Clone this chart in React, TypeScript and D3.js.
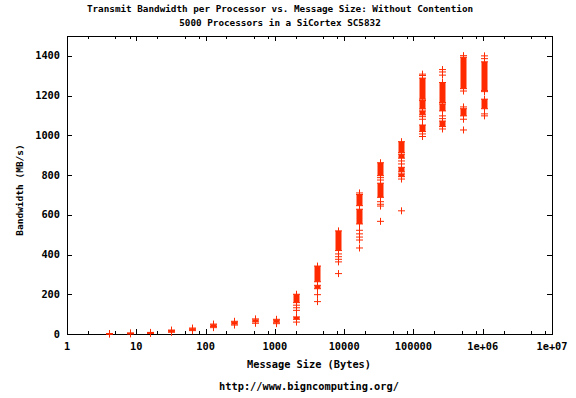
import { useRef, useEffect } from "react";
import * as d3 from "d3";

// message sizes (bytes), one column of measurements each
const sizes = [
  4, 8, 16, 32, 64, 128, 256, 512, 1024, 2048, 4096, 8192, 16384, 32768,
  65536, 131072, 262144, 524288, 1048576,
];

// dense runs of samples, [low, high] MB/s
const bands: number[][][] = [
  [[0.5, 2]],
  [[1, 4]],
  [[3, 7]],
  [[11, 17]],
  [[21, 26]],
  [[38, 46]],
  [[50, 60]],
  [[61, 71]],
  [[59, 70]],
  [[158, 200], [74, 86]],
  [[263, 342], [228, 245]],
  [[420, 519]],
  [[646, 702], [554, 628]],
  [[797, 862], [688, 759]],
  [[913, 968], [885, 905], [816, 839], [792, 806]],
  [[1182, 1288], [1133, 1175], [1103, 1123], [1019, 1052]],
  [[1165, 1266], [1123, 1158], [1044, 1072]],
  [[1235, 1393], [1098, 1134]],
  [[1225, 1370], [1134, 1182]],
];

// isolated samples, MB/s
const points: number[][] = [
  [1, 2],
  [2, 5],
  [4, 8],
  [9, 20],
  [17, 30],
  [32, 50],
  [45, 64],
  [54, 76],
  [52, 74],
  [145, 132, 119, 60],
  [198, 163],
  [403, 389, 376, 363, 304],
  [710, 522, 504, 488, 473, 433],
  [787, 775, 666, 653, 644, 567],
  [871, 856, 780, 620],
  [1308, 1301, 1094, 1081, 1007, 994],
  [1331, 1319, 1303, 1098, 1084, 1032],
  [1401, 1223, 1143, 1081, 1027],
  [1400, 1386, 1220, 1108, 1098],
];

const xTicks = [1, 10, 100, 1000, 10000, 100000, 1e6, 1e7];
const xTickLabels = ["1", "10", "100", "1000", "10000", "100000", "1e+06", "1e+07"];
const xMinorFactors = [2, 5, 8];
const yTicks = [0, 200, 400, 600, 800, 1000, 1200, 1400];

const RED = "#ff2a00";
const FONT = "'DejaVu Sans Mono', monospace";

export default function App() {
  const svgRef = useRef<SVGSVGElement>(null);

  useEffect(() => {
    if (!svgRef.current) return;
    const svg = d3.select(svgRef.current);
    svg.selectAll("*").remove();

    const left = 67, right = 552, top = 36, bottom = 334;

    const x = d3.scaleLog().domain([1, 1e7]).range([left, right]);
    const y = d3.scaleLinear().domain([0, 1500]).range([bottom, top]);

    // titles
    const title = svg
      .append("text")
      .attr("text-anchor", "middle")
      .attr("font-family", FONT)
      .attr("font-weight", "bold")
      .style("font-size", "9.3px")
      .attr("fill", "#000");
    title.append("tspan").attr("x", 280).attr("y", 12)
      .text("Transmit Bandwidth per Processor vs. Message Size: Without Contention");
    title.append("tspan").attr("x", 280).attr("y", 26)
      .text("5000 Processors in a SiCortex SC5832");

    // minor ticks on log axis
    const minor: number[] = [];
    xTicks.slice(0, -1).forEach((t) => xMinorFactors.forEach((f) => minor.push(t * f)));

    const ticks = svg.append("g").attr("stroke", "#000").attr("stroke-width", 1);
    xTicks.forEach((t) => {
      const px = Math.round(x(t)) + 0.5;
      ticks.append("line").attr("x1", px).attr("x2", px).attr("y1", bottom).attr("y2", bottom - 5);
      ticks.append("line").attr("x1", px).attr("x2", px).attr("y1", top).attr("y2", top + 5);
    });
    minor.forEach((t) => {
      const px = Math.round(x(t)) + 0.5;
      ticks.append("line").attr("x1", px).attr("x2", px).attr("y1", bottom).attr("y2", bottom - 3);
      ticks.append("line").attr("x1", px).attr("x2", px).attr("y1", top).attr("y2", top + 3);
    });
    yTicks.forEach((t) => {
      const py = Math.round(y(t)) + 0.5;
      ticks.append("line").attr("x1", left).attr("x2", left + 5).attr("y1", py).attr("y2", py);
      ticks.append("line").attr("x1", right).attr("x2", right - 5).attr("y1", py).attr("y2", py);
    });

    // frame
    svg
      .append("rect")
      .attr("x", left + 0.5)
      .attr("y", top + 0.5)
      .attr("width", right - left)
      .attr("height", bottom - top)
      .attr("fill", "none")
      .attr("stroke", "#000");

    // tick labels
    svg
      .append("g")
      .selectAll("text")
      .data(xTicks)
      .join("text")
      .attr("x", (d) => x(d))
      .attr("y", 350)
      .attr("text-anchor", "middle")
      .attr("font-family", FONT)
      .attr("font-weight", "bold")
      .style("font-size", "10.3px")
      .text((d, i) => xTickLabels[i]);

    svg
      .append("g")
      .selectAll("text")
      .data(yTicks)
      .join("text")
      .attr("x", 60)
      .attr("y", (d) => y(d) + 3.5)
      .attr("text-anchor", "end")
      .attr("font-family", FONT)
      .attr("font-weight", "bold")
      .style("font-size", "10.3px")
      .text((d) => String(d));

    // axis labels
    svg
      .append("text")
      .attr("x", 309)
      .attr("y", 367.5)
      .attr("text-anchor", "middle")
      .attr("font-family", FONT)
      .attr("font-weight", "bold")
      .style("font-size", "10.3px")
      .text("Message Size (Bytes)");

    svg
      .append("text")
      .attr("transform", `translate(23,190) rotate(-90)`)
      .attr("text-anchor", "middle")
      .attr("font-family", FONT)
      .attr("font-weight", "bold")
      .style("font-size", "9.5px")
      .text("Bandwidth (MB/s)");

    svg
      .append("text")
      .attr("x", 309)
      .attr("y", 390)
      .attr("text-anchor", "middle")
      .attr("font-family", FONT)
      .attr("font-weight", "bold")
      .style("font-size", "10.3px")
      .text("http://www.bigncomputing.org/");

    // data
    const marks = svg.append("g");
    const plus = (cx: number, cy: number) => {
      marks.append("path")
        .attr("d", `M${cx - 3.5},${cy}H${cx + 3.5}M${cx},${cy - 3.5}V${cy + 3.5}`)
        .attr("stroke", RED)
        .attr("stroke-width", 1)
        .attr("fill", "none");
    };

    sizes.forEach((s, i) => {
      const cx = Math.round(x(s)) + 0.5;
      bands[i].forEach(([lo, hi]) => {
        marks.append("rect")
          .attr("x", cx - 3)
          .attr("y", y(hi))
          .attr("width", 6)
          .attr("height", Math.max(1, y(lo) - y(hi)))
          .attr("fill", RED);
        plus(cx, y(hi));
        plus(cx, y(lo));
      });
      points[i].forEach((v) => plus(cx, y(v)));
    });
  }, []);

  return (
    <svg
      ref={svgRef}
      width={576}
      height={398}
      style={{ position: "absolute", left: 0, top: 0, background: "#fff" }}
    />
  );
}
